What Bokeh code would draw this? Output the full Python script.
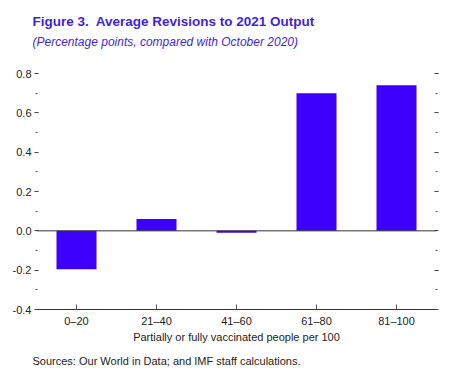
from bokeh.plotting import figure
from bokeh.models import (ColumnDataSource, LinearAxis, SingleIntervalTicker,
                          Span, Title, Range1d, NumeralTickFormatter)
from bokeh.embed import file_html
from bokeh.resources import INLINE

categories = ["0\u201320", "21\u201340", "41\u201360", "61\u201380", "81\u2013100"]
values = [-0.195, 0.06, -0.01, 0.70, 0.74]

title_text = "Figure 3.\u00a0 Average Revisions to 2021 Output"
subtitle_text = "(Percentage points, compared with October 2020)"
xlabel_text = "Partially or fully vaccinated people per 100"
source_text = "Sources: Our World in Data; and IMF staff calculations."

FONT = "Liberation Sans"
BAR = "#3d00fa"
TITLE_COL = "#3f1fe0"
TXT = "#222222"

src = ColumnDataSource(dict(cat=categories, val=values))

p = figure(x_range=categories, y_range=Range1d(-0.4, 0.8),
           frame_width=400, frame_height=236,
           min_border_left=36, min_border_right=17,
           min_border_top=73, min_border_bottom=55,
           output_backend="svg", toolbar_location=None,
           outline_line_color=None, background_fill_color="white")

p.vbar(x="cat", top="val", bottom=0, width=0.5, source=src,
       fill_color=BAR, line_color=None)

p.add_layout(Span(location=0, dimension="width", line_color="#333333", line_width=1))

p.xgrid.visible = False
p.ygrid.visible = False

# y axis (left)
yax = p.yaxis[0]
yax.ticker = SingleIntervalTicker(interval=0.2, num_minor_ticks=2)
yax.formatter = NumeralTickFormatter(format="0.0")
yax.axis_line_color = None
yax.major_tick_in = 2
yax.major_tick_out = 2
yax.minor_tick_in = 1
yax.minor_tick_out = 1
yax.major_tick_line_color = "#333333"
yax.minor_tick_line_color = "#555555"
yax.major_label_text_font = FONT
yax.major_label_text_font_size = "11px"
yax.major_label_text_color = TXT
yax.major_label_standoff = 3

# right axis, ticks only
rax = LinearAxis(ticker=SingleIntervalTicker(interval=0.2, num_minor_ticks=2))
rax.axis_line_color = None
rax.major_tick_in = 2
rax.major_tick_out = 2
rax.minor_tick_in = 1
rax.minor_tick_out = 1
rax.major_tick_line_color = "#333333"
rax.minor_tick_line_color = "#555555"
rax.major_label_text_font_size = "0px"
rax.major_label_text_alpha = 0
p.add_layout(rax, "right")

# x axis
xax = p.xaxis[0]
xax.axis_line_color = "#333333"
xax.major_tick_in = 5
xax.major_tick_out = 0
xax.major_tick_line_color = "#555555"
xax.major_label_text_font = FONT
xax.major_label_text_font_size = "11px"
xax.major_label_text_color = TXT
xax.major_label_standoff = 5
xax.axis_label = xlabel_text
xax.axis_label_text_font = FONT
xax.axis_label_text_font_size = "11px"
xax.axis_label_text_font_style = "normal"
xax.axis_label_text_color = TXT
xax.axis_label_standoff = 1

# titles (first added = closest to the plot)
p.add_layout(Title(text=" ", text_font_size="1px", standoff=17), "above")
p.add_layout(Title(text=subtitle_text, align="left", offset=-4,
                   text_font=FONT, text_font_size="12px",
                   text_font_style="italic", text_color=TITLE_COL,
                   standoff=9), "above")
p.add_layout(Title(text=title_text, align="left", offset=-4,
                   text_font=FONT, text_font_size="13.5px",
                   text_font_style="bold", text_color=TITLE_COL,
                   standoff=0), "above")

p.add_layout(Title(text=source_text, align="left", offset=-4,
                   text_font=FONT, text_font_size="11px",
                   text_font_style="normal", text_color=TXT,
                   standoff=14), "below")

open("out.html", "w").write(file_html(p, INLINE))
